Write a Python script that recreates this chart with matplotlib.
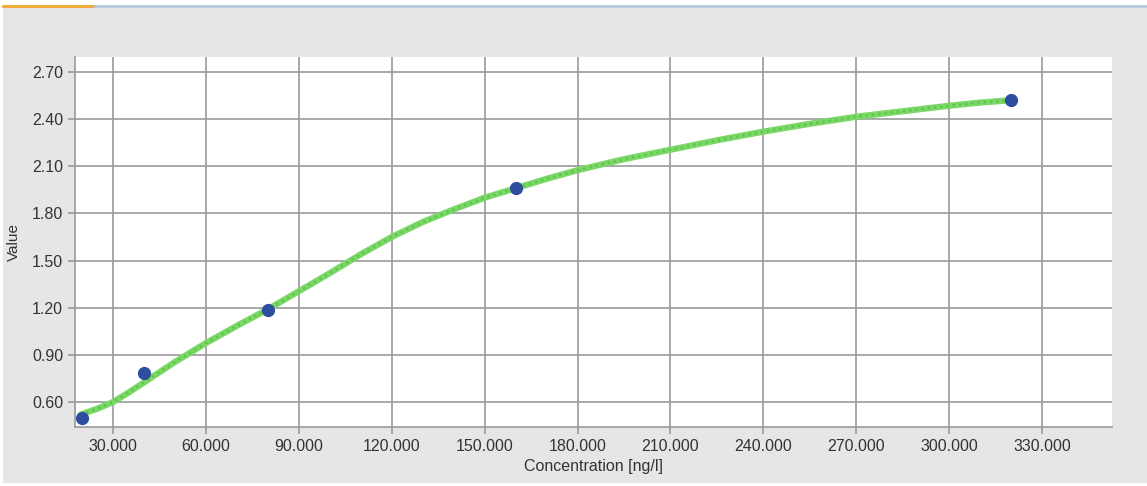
import matplotlib
matplotlib.use('Agg')
import matplotlib.pyplot as plt
from matplotlib.lines import Line2D
from matplotlib.patches import Rectangle

plt.rcParams['font.family'] = ['Liberation Sans', 'DejaVu Sans']

# standard points
conc = [20, 40, 80, 160, 320]
value = [0.50, 0.785, 1.185, 1.963, 2.52]

# fitted curve
curve_x = [19.5, 25, 30, 35, 40, 45, 50, 60, 70, 80, 90, 100, 110, 120, 130, 140,
           150, 160, 170, 180, 195, 210, 225, 240, 255, 270, 285, 300, 310, 320]
curve_y = [0.52, 0.558, 0.60, 0.66, 0.725, 0.79, 0.855, 0.975, 1.085, 1.19, 1.305,
           1.42, 1.54, 1.65, 1.745, 1.825, 1.90, 1.96, 2.02, 2.075, 2.145, 2.205,
           2.265, 2.32, 2.37, 2.415, 2.45, 2.485, 2.505, 2.52]

xticks = [30, 60, 90, 120, 150, 180, 210, 240, 270, 300, 330]
yticks = [0.60, 0.90, 1.20, 1.50, 1.80, 2.10, 2.40, 2.70]

fig = plt.figure(figsize=(11.47, 4.86), dpi=100, facecolor='#e6e6e6')
ax = fig.add_axes([75 / 1147, 1 - 427 / 486, (1112 - 75) / 1147, (427 - 57) / 486])
ax.set_facecolor('white')

# top strip decoration
fig.add_artist(Rectangle((0, 1 - 6 / 486), 1, 6 / 486, transform=fig.transFigure,
                         facecolor='white', edgecolor='none'))
fig.add_artist(Line2D([3 / 1147, 95 / 1147], [1 - 6.5 / 486] * 2, transform=fig.transFigure,
                      color='#f0a830', lw=2))
fig.add_artist(Line2D([95 / 1147, 1], [1 - 6.5 / 486] * 2, transform=fig.transFigure,
                      color='#b8c8e0', lw=2))
fig.add_artist(Rectangle((0, 0), 1, 3 / 486, transform=fig.transFigure,
                         facecolor='white', edgecolor='none'))
fig.add_artist(Rectangle((0, 0), 3 / 1147, 1, transform=fig.transFigure,
                         facecolor='white', edgecolor='none'))

ax.plot(curve_x, curve_y, color='#7ad866', lw=4.5, solid_capstyle='round',
        solid_joinstyle='round', zorder=3)
ax.plot(curve_x, curve_y, color='#62c250', lw=1.8, ls=(0, (1, 1.5)), zorder=3)
ax.plot(conc, value, 'o', color='#2d4e9e', ms=8.5, zorder=4)

ax.set_xlim(17.7, 352.6)
ax.set_ylim(0.441, 2.795)
ax.set_xticks(xticks)
ax.set_yticks(yticks)
ax.set_xticklabels(['%.3f' % t for t in xticks])
ax.set_yticklabels(['%.2f' % t for t in yticks])
ax.grid(True, color='#9a9a9a', lw=1.2)
ax.set_axisbelow(True)

for s in ['top', 'right']:
    ax.spines[s].set_visible(False)
for s in ['left', 'bottom']:
    ax.spines[s].set_color('#9a9a9a')
    ax.spines[s].set_linewidth(1.2)
ax.tick_params(colors='#9a9a9a', labelcolor='#333333', labelsize=11.5, length=5, width=1.2)

ax.set_xlabel('Concentration [ng/l]', fontsize=11.5, color='#333333', labelpad=4)
ax.set_ylabel('Value', fontsize=11, color='#333333', labelpad=8)

fig.savefig('out.png', dpi=100, facecolor=fig.get_facecolor())
